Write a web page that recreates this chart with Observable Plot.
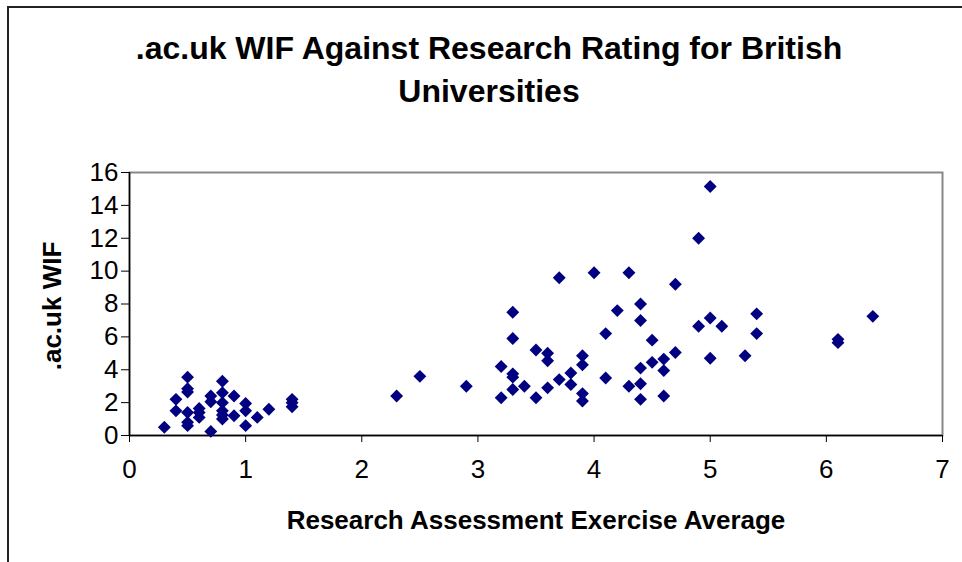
<!DOCTYPE html>
<html><head><meta charset="utf-8">
<script src="https://cdn.jsdelivr.net/npm/d3@7"></script>
<script src="https://cdn.jsdelivr.net/npm/@observablehq/plot@0.6"></script>
<style>
body{margin:0;background:#fff;}
#wrap{position:relative;width:962px;height:562px;overflow:hidden;font-family:"Liberation Sans",Arial,sans-serif;}
#border{position:absolute;left:7px;top:6px;width:980px;height:600px;border-left:2px solid #222;border-top:2px solid #222;}
#title{position:absolute;left:8px;width:962px;top:27px;text-align:center;font-weight:bold;font-size:32px;line-height:43px;color:#000;}
#chart{position:absolute;left:0;top:0;}
#chart g[aria-label$="tick label"]{font-size:26px !important;}
#chart g[aria-label$="tick label"] text{font-size:26px !important;}
</style></head>
<body>
<div id="wrap">
  <div id="border"></div>
  <div id="chart"></div>
  <div id="title">.ac.uk WIF Against Research Rating for British<br>Universities</div>
</div>
<script>
const titleText = ".ac.uk WIF Against Research Rating for British Universities";
const xLabel = "Research Assessment Exercise Average";
const yLabel = ".ac.uk WIF";
const xTicks = [0, 1, 2, 3, 4, 5, 6, 7];
const yTicks = [0, 2, 4, 6, 8, 10, 12, 14, 16];

// Research Assessment Exercise average (x) and .ac.uk WIF (y)
const rae = [
  0.3,
  0.4, 0.4,
  0.5, 0.5, 0.5, 0.5, 0.5, 0.5,
  0.6, 0.6, 0.6,
  0.7, 0.7, 0.7,
  0.8, 0.8, 0.8, 0.8, 0.8, 0.8,
  0.9, 0.9,
  1.0, 1.0, 1.0,
  1.1,
  1.2,
  1.4, 1.4, 1.4,
  2.3, 2.5, 2.9,
  3.2, 3.2,
  3.3, 3.3, 3.3, 3.3, 3.3,
  3.4,
  3.5, 3.5,
  3.6, 3.6, 3.6,
  3.7, 3.7,
  3.8, 3.8,
  3.9, 3.9, 3.9, 3.9,
  4.0,
  4.1, 4.1,
  4.2,
  4.3, 4.3,
  4.4, 4.4, 4.4, 4.4, 4.4,
  4.5, 4.5,
  4.6, 4.6, 4.6,
  4.7, 4.7,
  4.9, 4.9,
  5.0, 5.0, 5.0,
  5.1,
  5.3,
  5.4, 5.4,
  6.1, 6.1,
  6.4
];
const wif = [
  0.5,
  2.2, 1.5,
  3.55, 2.85, 2.65, 1.4, 0.8, 0.6,
  1.65, 1.4, 1.1,
  2.4, 2.05, 0.25,
  3.3, 2.6, 2.0, 1.5, 1.25, 1.0,
  2.4, 1.2,
  1.95, 1.5, 0.6,
  1.1,
  1.6,
  2.2, 2.0, 1.75,
  2.4, 3.6, 3.0,
  4.2, 2.3,
  7.5, 5.9, 3.75, 3.55, 2.8,
  3.0,
  5.2, 2.3,
  5.0, 4.55, 2.9,
  9.6, 3.4,
  3.8, 3.1,
  4.85, 4.3, 2.55, 2.1,
  9.9,
  6.2, 3.5,
  7.6,
  9.9, 3.0,
  8.0, 7.0, 4.1, 3.15, 2.2,
  5.8, 4.45,
  4.65, 3.95, 2.4,
  9.2, 5.05,
  12.0, 6.65,
  15.15, 7.15, 4.7,
  6.65,
  4.85,
  7.4, 6.2,
  5.85, 5.65,
  7.25
];

const data = rae.map((x, i) => ({x, y: wif[i]}));
const font = "Liberation Sans, Arial, sans-serif";

const plot = Plot.plot({
  width: 962,
  height: 562,
  marginLeft: 129,
  marginRight: 20,
  marginTop: 172,
  marginBottom: 127,
  x: {domain: [0, 7], ticks: xTicks},
  y: {domain: [0, 16], ticks: yTicks},
  style: {fontFamily: font, fontSize: "24px", background: "transparent", color: "#000"},
  marks: [
    Plot.frame({stroke: "#888", strokeWidth: 2}),
    Plot.ruleY([0], {stroke: "#000", strokeWidth: 1.5}),
    Plot.ruleX([0], {stroke: "#000", strokeWidth: 1.5}),
    Plot.axisX({ticks: xTicks, tickFormat: "d", tickSize: 7, tickPadding: 17, fontSize: 26, label: null, stroke: "#000"}),
    Plot.axisY({ticks: yTicks, tickFormat: "d", tickSize: 8, tickPadding: 3, fontSize: 26, label: null, stroke: "#000"}),
    Plot.text([xLabel], {frameAnchor: "bottom", lineAnchor: "middle", textAnchor: "middle", dy: 85, fontSize: 26, fontWeight: "bold", fill: "#000"}),
    Plot.text([yLabel], {frameAnchor: "left", lineAnchor: "middle", textAnchor: "middle", dx: -77, dy: 2, rotate: -90, fontSize: 26, fontWeight: "bold", fill: "#000"}),
    Plot.dot(data, {x: "x", y: "y", symbol: "diamond2", r: 5.8, fill: "#000080", stroke: "none"})
  ]
});
document.getElementById("chart").appendChild(plot);
</script>
</body></html>
